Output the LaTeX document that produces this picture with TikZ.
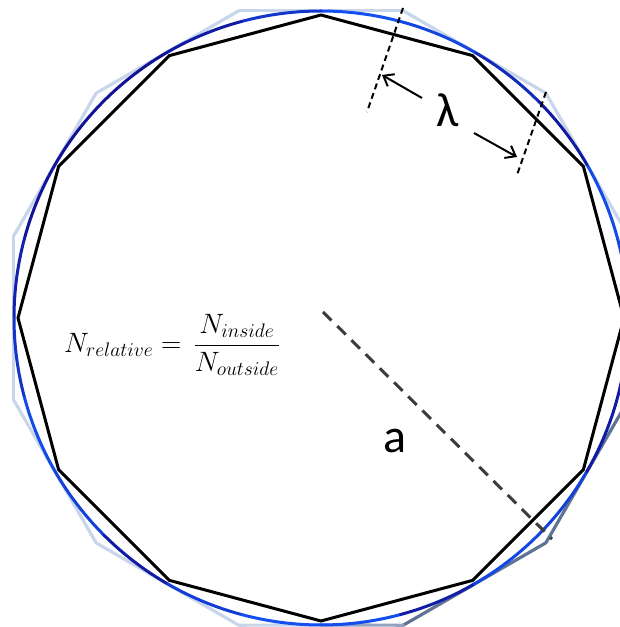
\documentclass[tikz,border=0pt]{standalone}
\usepackage{fix-cm}
\usepackage{fontspec}
\newfontfamily\calibrifont{Carlito}
\usepackage{tikz}
\usetikzlibrary{positioning,calc,arrows.meta}

\definecolor{ringnavy}{RGB}{18,18,150}
\definecolor{ringblue}{RGB}{20,80,240}
\definecolor{outlight}{RGB}{200,214,236}
\definecolor{outmid}{RGB}{145,163,192}
\definecolor{outdark}{RGB}{95,115,148}
\definecolor{radgray}{RGB}{60,60,60}

\begin{document}
\begin{tikzpicture}[
    x=1pt, y=1pt,
    ringline/.style={line width=3pt, line cap=round},
    innerpoly/.style={draw=black, line width=3pt},
    outpoly/.style={line width=3.2pt, line cap=round},
    cutline/.style={draw=black, dash pattern=on 6pt off 4pt, line width=2pt},
    radline/.style={draw=radgray, dash pattern=on 12pt off 8pt, line width=3pt},
    lamarrow/.style={-{Straight Barb[length=9pt,width=14pt]}, line width=2pt},
    biglabel/.style={font=\calibrifont\fontsize{48}{56}\selectfont, inner sep=0pt} % lambda and a
]
\useasboundingbox (0,0) rectangle (620,627);
\clip (0,0) rectangle (620,627);

% --- Centre ---
\coordinate (c) at (321,309);

% --- Outer polygon (lighter on the upper left, darker on the lower right) ---
\foreach \a in {15,45,...,345}
  \coordinate (o\a) at ($(c)+(\a:318)$);
\coordinate (obot) at ($(c)+(270:307)$);
\foreach \p/\q/\col in {15/45/outlight,45/75/outlight,75/105/outlight,105/135/outlight,
                        135/165/outlight,165/195/outlight,195/225/outlight,225/255/outlight,
                        285/315/outdark,315/345/outdark,345/15/outlight}{
  \draw[outpoly, draw=\col] (o\p) -- (o\q);
}
\draw[outpoly, draw=outlight] (o255) -- (obot);
\draw[outpoly, draw=outmid] (obot) -- (o285);

% --- Circle, drawn in short arcs so the blue can change along it ---
\foreach \a/\m in {0/80,15/90,30/15,45/40,60/85,75/100,90/60,105/15,120/0,135/0,150/5,165/25,
                   180/55,195/90,210/75,225/15,240/70,255/100,270/95,285/20,300/85,315/75,330/15,345/10}{
  \draw[ringline, draw=ringblue!\m!ringnavy] ($(c)+(\a:307)$) arc[start angle=\a, delta angle=15, radius=307];
}

% --- Inner polygon ---
\draw[innerpoly, shift={(c)}] (0:303) \foreach \a in {30,60,...,330}{ -- (\a:303)} -- cycle;

% --- Radius a ---
\coordinate (a0) at (323,315);
\coordinate (a1) at (552,88);
\draw[radline] (a0) -- (a1);
\node[biglabel] (alabel) at (395,186) {a};

% --- Wavelength lambda ---
\coordinate (cut1top) at (403,619);
\coordinate (cut1bot) at (367,515);
\coordinate (cut2top) at (546,535);
\coordinate (cut2bot) at (517,452);
\draw[cutline] (cut1top) -- (cut1bot);
\draw[cutline] (cut2top) -- (cut2bot);
\node[biglabel] (lam) at (448,517) {λ};
\coordinate (tail1) at (422,529);
\coordinate (tip1) at (382,552);
\coordinate (tail2) at (474,494);
\coordinate (tip2) at (517,470);
\draw[lamarrow] (tail1) -- (tip1);
\draw[lamarrow] (tail2) -- (tip2);

% --- Ratio ---
\node[anchor=west, inner sep=0pt, font=\fontsize{28}{34}\selectfont] (ratio) at (64,282)
  {$\displaystyle N_{relative} = \,\frac{N_{inside}}{N_{outside}}$};

\end{tikzpicture}
\end{document}
